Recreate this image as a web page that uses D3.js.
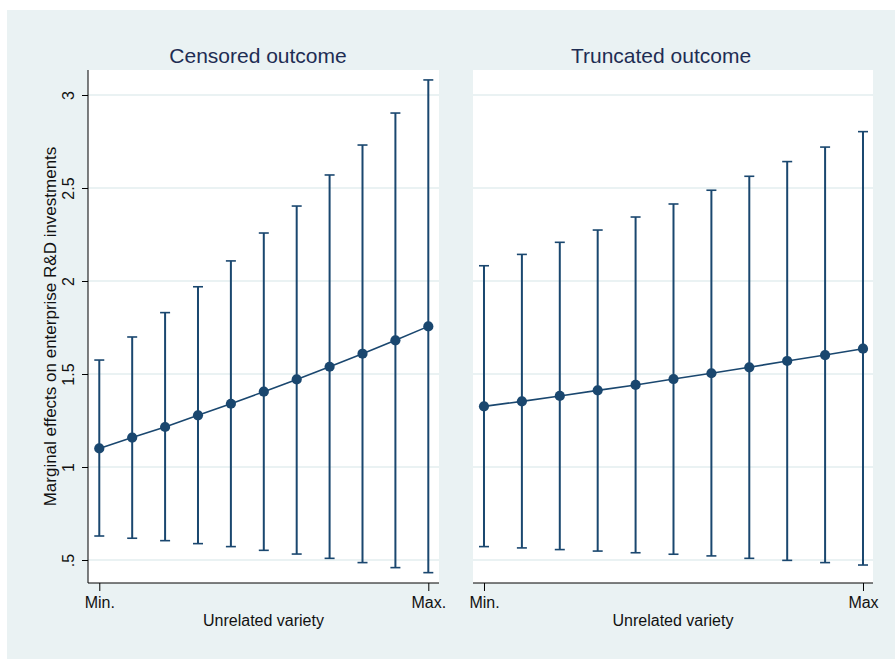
<!DOCTYPE html>
<html>
<head>
<meta charset="utf-8">
<script src="https://cdn.jsdelivr.net/npm/d3@7"></script>
<style>
  body { margin: 0; background: #fff; }
  text { font-family: "Liberation Sans", Arial, sans-serif; }
</style>
</head>
<body>
<div id="chart"></div>
<script>
// points along unrelated variety, Min. .. Max.
var steps = [0, 1, 2, 3, 4, 5, 6, 7, 8, 9, 10];

// censored outcome: margin, upper and lower 95% bounds
var censMargin = [1.100, 1.158, 1.215, 1.278, 1.340, 1.405, 1.471, 1.539, 1.609, 1.681, 1.756];
var censUpper  = [1.575, 1.699, 1.830, 1.969, 2.108, 2.258, 2.403, 2.570, 2.731, 2.903, 3.081];
var censLower  = [0.629, 0.617, 0.604, 0.588, 0.572, 0.552, 0.532, 0.509, 0.486, 0.459, 0.432];

// truncated outcome
var truncMargin = [1.326, 1.353, 1.382, 1.412, 1.441, 1.473, 1.504, 1.536, 1.570, 1.602, 1.636];
var truncUpper  = [2.082, 2.143, 2.208, 2.274, 2.344, 2.414, 2.488, 2.563, 2.642, 2.720, 2.803];
var truncLower  = [0.572, 0.565, 0.556, 0.548, 0.539, 0.531, 0.522, 0.509, 0.498, 0.486, 0.473];

var yTicks = [0.5, 1, 1.5, 2, 2.5, 3];
var yTickLabels = [".5", "1", "1.5", "2", "2.5", "3"];
var xTickLabelsLeft = ["Min.", "Max."];
var xTickLabelsRight = ["Min.", "Max"];

var width = 895, height = 659;
var navy = "#1a476f", bg = "#eaf2f3";
var top0 = 70, bottom0 = 583;

var svg = d3.select("#chart")
    .append("svg")
    .attr("width", width)
    .attr("height", height);

// graph region
svg.append("rect")
    .attr("x", 7).attr("y", 10)
    .attr("width", width - 7).attr("height", height - 10)
    .attr("fill", bg);

var y = d3.scaleLinear()
    .domain([0.5, 3])
    .range([560, 95]);

function panel(cfg) {
    var g = svg.append("g");
    var x = d3.scaleLinear().domain(cfg.domain).range([cfg.x0, cfg.x1]);

    g.append("rect")
        .attr("x", cfg.x0).attr("y", top0)
        .attr("width", cfg.x1 - cfg.x0).attr("height", bottom0 - top0)
        .attr("fill", "#fff");

    // grid lines
    g.selectAll(".grid")
        .data(yTicks)
        .enter().append("line")
        .attr("x1", cfg.x0).attr("x2", cfg.x1)
        .attr("y1", function (d) { return y(d); })
        .attr("y2", function (d) { return y(d); })
        .attr("stroke", bg)
        .attr("stroke-width", 2);

    // x axis
    var xAxis = g.append("g")
        .attr("transform", "translate(0," + bottom0 + ")")
        .call(d3.axisBottom(x)
            .tickValues([steps[0], steps[steps.length - 1]])
            .tickFormat(function (d, i) { return cfg.xLabels[i]; })
            .tickSize(8)
            .tickSizeOuter(0)
            .tickPadding(6));
    xAxis.select(".domain")
        .attr("d", "M" + cfg.x0 + ",0H" + cfg.x1)
        .attr("stroke", "#000");
    xAxis.selectAll("text").attr("font-size", 16).attr("fill", "#111");

    if (cfg.yAxis) {
        var yAxis = g.append("g")
            .attr("transform", "translate(" + cfg.x0 + ",0)")
            .call(d3.axisLeft(y)
                .tickValues(yTicks)
                .tickFormat(function (d, i) { return yTickLabels[i]; })
                .tickSize(6)
                .tickSizeOuter(0));
        yAxis.select(".domain")
            .attr("d", "M0," + top0 + "V" + bottom0)
            .attr("stroke", "#000");
        yAxis.selectAll(".tick text")
            .attr("font-size", 16).attr("fill", "#111")
            .attr("x", null).attr("dy", null)
            .attr("text-anchor", "middle")
            .attr("transform", "translate(-14,0) rotate(-90)");

        svg.append("text")
            .attr("transform", "translate(56," + ((top0 + bottom0) / 2) + ") rotate(-90)")
            .attr("text-anchor", "middle")
            .attr("font-size", 17)
            .attr("fill", "#111")
            .text("Marginal effects on enterprise R&D investments");
    }

    // error bars
    var bars = g.selectAll(".ci")
        .data(steps)
        .enter().append("g");
    bars.append("line")
        .attr("x1", function (d) { return x(d); })
        .attr("x2", function (d) { return x(d); })
        .attr("y1", function (d, i) { return y(cfg.lower[i]); })
        .attr("y2", function (d, i) { return y(cfg.upper[i]); })
        .attr("stroke", navy).attr("stroke-width", 2);
    ["upper", "lower"].forEach(function (k) {
        bars.append("line")
            .attr("x1", function (d) { return x(d) - 5; })
            .attr("x2", function (d) { return x(d) + 5; })
            .attr("y1", function (d, i) { return y(cfg[k][i]); })
            .attr("y2", function (d, i) { return y(cfg[k][i]); })
            .attr("stroke", navy).attr("stroke-width", 1.6);
    });

    // margins line and markers
    g.append("path")
        .datum(steps)
        .attr("fill", "none")
        .attr("stroke", navy)
        .attr("stroke-width", 1.6)
        .attr("d", d3.line()
            .x(function (d) { return x(d); })
            .y(function (d, i) { return y(cfg.margin[i]); }));
    g.selectAll(".pt")
        .data(steps)
        .enter().append("circle")
        .attr("cx", function (d) { return x(d); })
        .attr("cy", function (d, i) { return y(cfg.margin[i]); })
        .attr("r", 5.1)
        .attr("fill", navy);

    svg.append("text")
        .attr("x", cfg.titleX).attr("y", 63)
        .attr("text-anchor", "middle")
        .attr("font-size", 21)
        .attr("fill", "#1e2d53")
        .text(cfg.title);

    svg.append("text")
        .attr("x", (cfg.x0 + cfg.x1) / 2).attr("y", 626)
        .attr("text-anchor", "middle")
        .attr("font-size", 16)
        .attr("fill", "#111")
        .text("Unrelated variety");
}

panel({
    title: "Censored outcome", titleX: 258,
    x0: 88, x1: 439, domain: [-0.343, 10.325],
    margin: censMargin, upper: censUpper, lower: censLower,
    xLabels: xTickLabelsLeft, yAxis: true
});

panel({
    title: "Truncated outcome", titleX: 661,
    x0: 473, x1: 873, domain: [-0.29, 10.264],
    margin: truncMargin, upper: truncUpper, lower: truncLower,
    xLabels: xTickLabelsRight, yAxis: false
});
</script>
</body>
</html>
